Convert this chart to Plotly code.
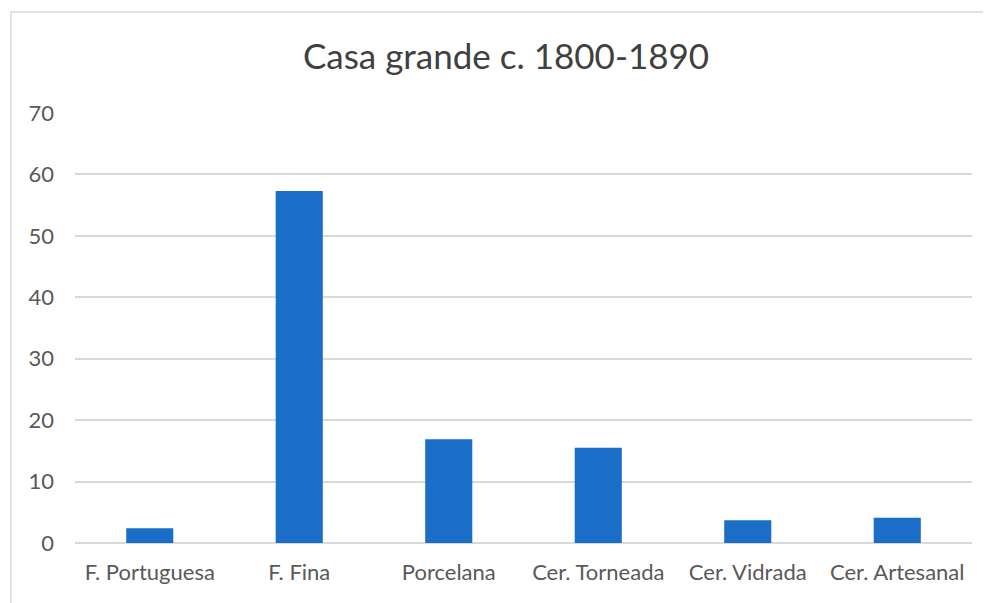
import plotly.graph_objects as go

categories = ["F. Portuguesa", "F. Fina", "Porcelana", "Cer. Torneada", "Cer. Vidrada", "Cer. Artesanal"]
values = [2.4, 57.3, 16.9, 15.5, 3.7, 4.1]
y_ticks = [0, 10, 20, 30, 40, 50, 60, 70]
title_text = "Casa grande c. 1800-1890"

# the page adds an 8px body margin, so the figure is laid out 8px smaller
OFF = 8
W, H = 991 - OFF, 603 - OFF
L, R, T, B = 75 - OFF, 19, 113 - OFF, 60
fig = go.Figure(go.Bar(x=categories, y=values, marker=dict(color="#1B6EC8", line=dict(width=0))))

fig.update_layout(
    width=W, height=H,
    paper_bgcolor="white", plot_bgcolor="white",
    margin=dict(l=L, r=R, t=T, b=B),
    bargap=0.685,
    showlegend=False,
    title=dict(text=title_text, x=(506 - OFF) / W, xanchor="center", y=1 - (57 - OFF) / H, yanchor="middle",
               font=dict(family="Lato, Open Sans, sans-serif", size=35, color="#404040")),
    font=dict(family="Lato, Open Sans, sans-serif", color="#595959", size=22),
)
fig.update_xaxes(showgrid=False, showline=False, ticks="", ticklabelstandoff=14,
                 tickfont=dict(size=22, color="#595959"))
fig.update_yaxes(range=[0, 70], tickvals=y_ticks, showgrid=True, gridcolor="#d9d9d9", gridwidth=1.5,
                 zeroline=True, zerolinecolor="#d9d9d9", zerolinewidth=1.5, showline=False, ticks="",
                 ticklabelstandoff=20, tickfont=dict(size=22, color="#595959"))

pw, ph = W - L - R, H - T - B
fig.add_shape(type="rect", xref="paper", yref="paper",
              x0=(11 - OFF - L) / pw, x1=(1000 - L) / pw,
              y0=-0.5, y1=(H - (12 - OFF) - B) / ph,
              line=dict(color="#d9d9d9", width=1.5), fillcolor="rgba(0,0,0,0)", layer="below")

fig.write_html("out.html")
